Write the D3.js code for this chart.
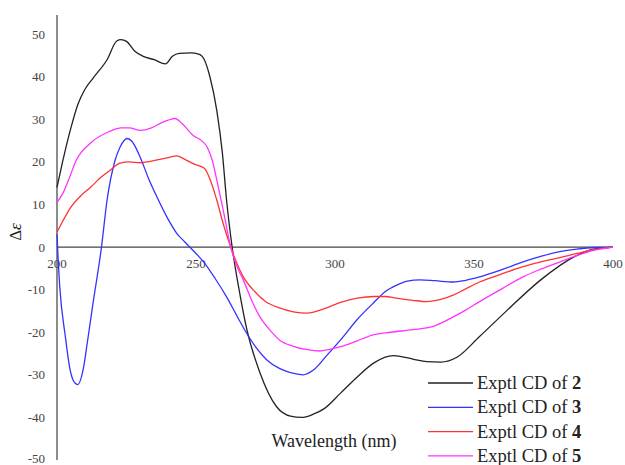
<!DOCTYPE html>
<html>
<head>
<meta charset="utf-8">
<title>Exptl CD spectra</title>
<script src="https://d3js.org/d3.v7.min.js"></script>
<style>
  body { margin: 0; background: #fff; }
</style>
</head>
<body>
<div id="chart"></div>
<script>
// canvas
var w = 625, h = 465;
var serif = "'Liberation Serif'";

// wavelength (nm), delta epsilon
var cd2 = [[200,14],[202,20],[205,28],[207.5,33.5],[210,37],[213,39.7],[218,44],[221.5,48.4],[223,48.7],[225,48.3],[228,46],[231,44.8],[235,44],[239,43],[241.5,44.8],[244,45.5],[248,45.6],[251,45.3],[253,44],[255,40],[257.5,32],[259.5,22],[261,11],[263,0],[265.5,-10],[268.3,-19.4],[273,-29.5],[279,-37.5],[284,-39.7],[288,-40],[292,-39.3],[296,-38],[302,-34.3],[308,-30.5],[314,-27.2],[321,-25.5],[328,-26.3],[333,-26.9],[338,-27],[344,-25.8],[352,-21],[362,-14.8],[374,-7.7],[386,-2.3],[393,-0.5],[400,0]];
var cd3 = [[200,3],[200.5,-4],[201,-9.4],[203,-21],[204.7,-28.8],[206,-31.5],[207.5,-32.3],[209.4,-28.8],[211,-22],[213,-13],[216,0],[218,11],[220.9,20.4],[222.7,23.5],[225.3,25.5],[227,24.8],[230,21],[233,16],[236,11.7],[240,6.5],[243,3.3],[246,1.2],[250,-1.5],[253,-3.7],[257,-7.5],[261,-11.7],[265,-16.5],[268,-20],[271.5,-23.5],[275.5,-26.5],[280,-28.5],[284,-29.5],[288.5,-30],[292,-29],[297,-25.5],[302,-21.8],[308,-17],[314,-13],[318,-10.5],[322,-9],[326,-8],[330.6,-7.7],[336,-7.9],[342.5,-8.2],[347,-7.8],[352,-7],[360,-5.3],[367.6,-3.5],[374,-2.2],[380,-1.2],[387,-0.5],[393.5,-0.1],[400,0]];
var cd4 = [[200,3.5],[202,6],[205,9.4],[208.5,12],[212,14],[216,16.5],[219,18],[222.7,19.7],[226,20],[230,19.8],[234,20.2],[237,20.6],[240,21],[243,21.4],[246,20.6],[249,19.6],[253,18.5],[255,16],[257.5,11],[260,5],[262.5,0],[264.7,-3.8],[267,-7],[270.5,-10],[275,-12.8],[280,-14.3],[285,-15.2],[290,-15.5],[296,-14.5],[302,-13],[308,-12],[314,-11.6],[318,-11.6],[322,-12],[328,-12.5],[333,-12.8],[338,-12.3],[342.5,-11.3],[347,-9.8],[352,-8.2],[360,-6.3],[367.6,-4.6],[374,-3.5],[380,-2.6],[387,-1.5],[393,-0.6],[400,0]];
var cd5 = [[200,10.5],[202,12.5],[204,15.5],[207,20.5],[212,24.4],[219,27.2],[223,28],[226,28],[230,27.4],[234,28],[237,29],[240,29.8],[242.5,30.2],[245,29],[249,26.2],[252,25],[254,23.5],[256,20],[257.5,15.7],[260,8],[262.5,0],[265,-5],[267,-7.7],[270,-12.5],[273,-16.4],[277,-19.8],[280,-21.8],[285,-23.3],[290,-24.1],[294.6,-24.4],[298,-24],[302,-23.4],[308,-22],[313.7,-20.6],[320,-20],[328,-19.4],[335,-18.7],[342.5,-16.4],[347,-14.8],[352,-12.8],[360,-9.8],[367.6,-7],[374,-5.2],[380,-3.7],[387,-2],[393,-0.8],[400,0]];

var seriesNames = ["2", "3", "4", "5"];
var seriesColors = ["#222222", "#3333ff", "#ff3333", "#ff33ff"];
var xTicks = [200, 250, 300, 350, 400];
var yTicks = [50, 40, 30, 20, 10, 0, -10, -20, -30, -40, -50];

var svg = d3.select("#chart").append("svg")
  .attr("width", w)
  .attr("height", h);

var x = d3.scaleLinear().domain([200, 400]).range([57, 613]);
var y = d3.scaleLinear().domain([-50, 54.5]).range([460, 15]);

// y axis line
svg.append("line")
  .attr("x1", x(200)).attr("x2", x(200))
  .attr("y1", y(54.5)).attr("y2", y(-50))
  .attr("stroke", "#666").attr("stroke-width", 1.5);

// zero line
svg.append("line")
  .attr("x1", x(200)).attr("x2", x(400))
  .attr("y1", y(0)).attr("y2", y(0))
  .attr("stroke", "#444").attr("stroke-width", 1.2);

// y tick labels
svg.selectAll(".ylab")
  .data(yTicks)
  .enter().append("text")
  .attr("class", "ylab")
  .attr("x", 45)
  .attr("y", function(d) { return Math.min(y(d) + 4.5, 463); })
  .attr("text-anchor", "end")
  .style("font-family", serif)
  .style("font-size", "13px")
  .attr("fill", "#444")
  .text(function(d) { return d; });

// x tick labels
svg.selectAll(".xlab")
  .data(xTicks)
  .enter().append("text")
  .attr("class", "xlab")
  .attr("x", function(d) { return x(d); })
  .attr("y", y(0) + 21)
  .attr("text-anchor", "middle")
  .style("font-family", serif)
  .style("font-size", "13px")
  .attr("fill", "#444")
  .text(function(d) { return d; });

// curves
var line = d3.line()
  .x(function(d) { return x(d[0]); })
  .y(function(d) { return y(d[1]); })
  .curve(d3.curveMonotoneX);

var allSeries = [cd2, cd3, cd4, cd5];
svg.selectAll(".cd")
  .data(allSeries)
  .enter().append("path")
  .attr("class", "cd")
  .attr("d", line)
  .attr("fill", "none")
  .attr("stroke", function(d, i) { return seriesColors[i]; })
  .attr("stroke-width", 1.3);

// axis titles
svg.append("text")
  .attr("x", 334)
  .attr("y", 447)
  .attr("text-anchor", "middle")
  .style("font-family", serif)
  .style("font-size", "18px")
  .attr("fill", "#222")
  .text("Wavelength (nm)");

var yt = svg.append("text")
  .attr("transform", "translate(21,232) rotate(-90)")
  .attr("text-anchor", "middle")
  .style("font-family", serif)
  .style("font-size", "17px")
  .attr("fill", "#222");
yt.append("tspan").text("Δ");
yt.append("tspan").style("font-style", "italic").text("ε");

// legend
var legend = svg.selectAll(".leg")
  .data(seriesNames)
  .enter().append("g")
  .attr("class", "leg")
  .attr("transform", function(d, i) { return "translate(0," + (383 + i * 24.3) + ")"; });

legend.append("line")
  .attr("x1", 428).attr("x2", 473)
  .attr("y1", 0).attr("y2", 0)
  .attr("stroke", function(d, i) { return seriesColors[i]; })
  .attr("stroke-width", 1.3);

var lt = legend.append("text")
  .attr("x", 477)
  .attr("y", 6)
  .style("font-family", serif)
  .style("font-size", "18.5px")
  .attr("fill", "#222");
lt.append("tspan").text("Exptl CD of ");
lt.append("tspan").style("font-weight", "bold").text(function(d) { return d; });
</script>
</body>
</html>
